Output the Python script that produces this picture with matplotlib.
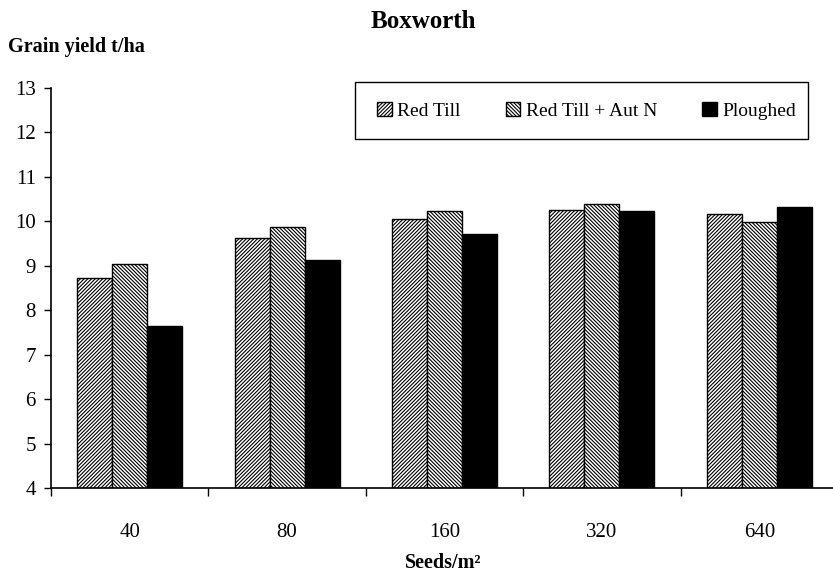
import numpy as np
import matplotlib
matplotlib.use("Agg")
import matplotlib.pyplot as plt
from matplotlib.patches import Rectangle

plt.rcParams['font.family'] = ['Liberation Serif', 'DejaVu Serif']
plt.rcParams['hatch.linewidth'] = 0.8

# Yield data, t/ha
seed_rates = ["40", "80", "160", "320", "640"]
red_till = [8.72, 9.63, 10.05, 10.26, 10.15]
red_till_aut_n = [9.04, 9.87, 10.23, 10.39, 9.97]
ploughed = [7.65, 9.12, 9.72, 10.23, 10.32]

W, H = 833, 588
fig = plt.figure(figsize=(W / 100, H / 100), dpi=100)
ax = fig.add_axes([51 / W, 1 - 488 / H, (838 - 51) / W, (488 - 87.7) / H])

x = np.arange(len(seed_rates))
bw = 0.222
ax.bar(x - bw, red_till, bw, color="white", edgecolor="black",
       hatch="/" * 9, linewidth=1.0, label="Red Till")
ax.bar(x, red_till_aut_n, bw, color="white", edgecolor="black",
       hatch="\\" * 9, linewidth=1.0, label="Red Till + Aut N")
ax.bar(x + bw, ploughed, bw, color="black", edgecolor="black",
       linewidth=1.0, label="Ploughed")

ax.set_ylim(4, 13)
ax.set_xlim(-0.5, 4.5)
ax.set_yticks(range(4, 14))
ax.tick_params(axis="y", direction="out", length=5, width=1, pad=6, labelsize=15)

# category labels in the middle, ticks on the boundaries
ax.set_xticks(x)
ax.set_xticklabels(seed_rates)
ax.set_xticks(np.arange(-0.5, 5, 1), minor=True)
ax.tick_params(axis="x", which="major", length=0, pad=25, labelsize=15)
ax.tick_params(axis="x", which="minor", direction="out", length=6, width=1)

for s in ["top", "right"]:
    ax.spines[s].set_visible(False)
for s in ["left", "bottom"]:
    ax.spines[s].set_linewidth(1.2)

fig.text(423 / W, 1 - 22 / H, "Boxworth", ha="center", va="center",
         fontsize=18, fontweight="bold")
fig.text(8 / W, 1 - 47 / H, "Grain yield t/ha", ha="left", va="center",
         fontsize=14.5, fontweight="bold")
fig.text(443 / W, 1 - 563 / H, "Seeds/m²", ha="center", va="center",
         fontsize=14.5, fontweight="bold")

# legend with its own frame
leg = fig.legend(loc="center left", bbox_to_anchor=(377 / W, 1 - 111 / H),
                 ncol=3, frameon=False, fontsize=14, borderpad=0,
                 borderaxespad=0, handlelength=0.75, handleheight=0.75,
                 handletextpad=0.3, columnspacing=2.3)
fig.patches.append(Rectangle((355 / W, 1 - 139 / H), (808 - 355) / W, (139 - 82) / H,
                             transform=fig.transFigure, fill=False,
                             edgecolor="black", linewidth=1.0))

fig.savefig("out.png", dpi=100)
